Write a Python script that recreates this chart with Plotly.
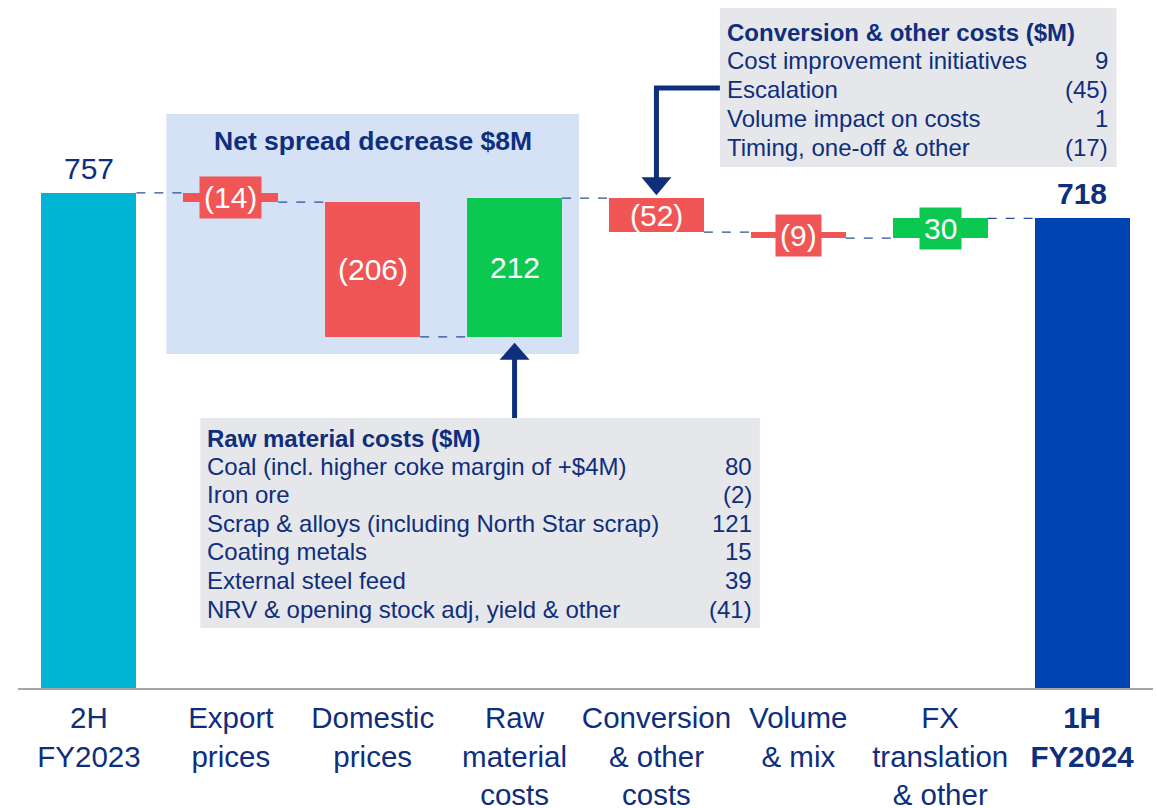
import plotly.graph_objects as go

# ---------------- data ----------------
categories = ["2H FY2023", "Export prices", "Domestic prices", "Raw material costs",
              "Conversion & other costs", "Volume & mix", "FX translation & other", "1H FY2024"]
tick_labels = ["2H<br>FY2023", "Export<br>prices", "Domestic<br>prices", "Raw<br>material<br>costs",
               "Conversion<br>& other<br>costs", "Volume<br>& mix", "FX<br>translation<br>& other",
               "<b>1H</b><br><b>FY2024</b>"]
opening_value = 757
changes = [-14, -206, 212, -52, -9, 30]
closing_value = 718

raw_items = ["Coal (incl. higher coke margin of +$4M)", "Iron ore",
             "Scrap & alloys (including North Star scrap)", "Coating metals",
             "External steel feed", "NRV & opening stock adj, yield & other"]
raw_values = [80, -2, 121, 15, 39, -41]

conv_items = ["Cost improvement initiatives", "Escalation", "Volume impact on costs",
              "Timing, one-off & other"]
conv_values = [9, -45, 1, -17]

spread_title = "Net spread decrease $8M"
raw_title = "Raw material costs ($M)"
conv_title = "Conversion & other costs ($M)"

# ---------------- styles ----------------
FONT = "Liberation Sans, Arial, sans-serif"
NAVY = "#0F2E7C"
CYAN = "#00B5D3"
RED = "#F15656"
GREEN = "#0BC950"
DARKBLUE = "#0044B2"
LIGHTBLUE = "#D5E1F5"
GRAY = "#E6E7EB"
CONN = "#2E4D9B"

W, H = 1157, 808
ML, MR, MT, MB = 17.5, 3.5, 0, 120
PLOT_W = W - ML - MR
PLOT_H = H - MT - MB
BASE_PX = MT + PLOT_H   # page y of the zero line
YMAX = 1052
CAT_W = PLOT_W / len(categories)
BAR_W = 0.669


def fmt(v):
    return f"({abs(v)})" if v < 0 else f"{v}"


def xd(px):
    return (px - ML) / CAT_W - 0.5


def yd(py):
    return (BASE_PX - py) / PLOT_H * YMAX


def dy(pixels):
    return pixels / PLOT_H * YMAX


# waterfall geometry from the data
levels = [opening_value]
for c in changes:
    levels.append(levels[-1] + c)
bases, heights, colors = [0], [opening_value], [CYAN]
for i, c in enumerate(changes):
    lo = min(levels[i], levels[i + 1])
    bases.append(lo)
    heights.append(abs(c))
    colors.append(GREEN if c > 0 else RED)
bases.append(0)
heights.append(closing_value)
colors.append(DARKBLUE)
tops = [b + h for b, h in zip(bases, heights)]

fig = go.Figure()
fig.add_trace(go.Bar(x=categories, y=heights, base=bases, width=BAR_W,
                     marker=dict(color=colors, line=dict(width=0)),
                     hoverinfo="skip", showlegend=False))

shapes = []
annotations = []

# shaded "net spread" region (behind bars)
shapes.append(dict(type="rect", xref="x", yref="y", x0=xd(166), x1=xd(579), y0=yd(354), y1=yd(114),
                   fillcolor=LIGHTBLUE, line=dict(width=0), layer="below"))
annotations.append(dict(x=2, y=yd(141), xref="x", yref="y", text=f"<b>{spread_title}</b>",
                        showarrow=False, font=dict(family=FONT, size=26.5, color=NAVY)))

# connectors
for i in range(len(categories) - 1):
    lvl = levels[i] if i < len(levels) else closing_value
    shapes.append(dict(type="line", xref="x", yref="y", x0=i + BAR_W / 2, x1=i + 1 - BAR_W / 2,
                       y0=lvl, y1=lvl, line=dict(color=CONN, width=1.2, dash="dash")))

# totals labels
annotations.append(dict(x=categories[0], y=tops[0], text=str(opening_value), showarrow=False,
                        yanchor="bottom", yshift=6, font=dict(family=FONT, size=30, color=NAVY)))
annotations.append(dict(x=categories[-1], y=tops[-1], text=f"<b>{closing_value}</b>", showarrow=False,
                        yanchor="bottom", yshift=6, font=dict(family=FONT, size=30, color=NAVY)))

# change labels
for i, c in enumerate(changes):
    k = i + 1
    mid = bases[k] + heights[k] / 2
    small = heights[k] * PLOT_H / YMAX < 25
    a = dict(x=categories[k], y=mid, text=fmt(c), showarrow=False,
             font=dict(family=FONT, size=30, color="white"), yanchor="middle")
    if small:
        a.update(bgcolor=colors[k], borderpad=4)
    annotations.append(a)

TXT = 24
# raw material costs box
shapes.append(dict(type="rect", xref="x", yref="y", x0=xd(200), x1=xd(760), y0=yd(628), y1=yd(418),
                   fillcolor=GRAY, line=dict(width=0), layer="above"))
annotations.append(dict(x=xd(205), y=yd(438), xref="x", yref="y", text=f"<b>{raw_title}</b>",
                        showarrow=False, xanchor="left", font=dict(family=FONT, size=TXT, color=NAVY)))
for j, (name, v) in enumerate(zip(raw_items, raw_values)):
    yy = yd(466 + 28.6 * j)
    annotations.append(dict(x=xd(205), y=yy, text=name, showarrow=False, xanchor="left",
                            font=dict(family=FONT, size=TXT, color=NAVY)))
    annotations.append(dict(x=xd(754), y=yy, text=fmt(v), showarrow=False, xanchor="right",
                            font=dict(family=FONT, size=TXT, color=NAVY)))

# conversion box
shapes.append(dict(type="rect", xref="x", yref="y", x0=xd(720), x1=xd(1117), y0=yd(167), y1=yd(8),
                   fillcolor=GRAY, line=dict(width=0), layer="above"))
annotations.append(dict(x=xd(725), y=yd(32), text=f"<b>{conv_title}</b>", showarrow=False,
                        xanchor="left", font=dict(family=FONT, size=TXT, color=NAVY)))
for j, (name, v) in enumerate(zip(conv_items, conv_values)):
    yy = yd(60 + 29 * j)
    annotations.append(dict(x=xd(725), y=yy, text=name, showarrow=False, xanchor="left",
                            font=dict(family=FONT, size=TXT, color=NAVY)))
    annotations.append(dict(x=xd(1110), y=yy, text=fmt(v), showarrow=False, xanchor="right",
                            font=dict(family=FONT, size=TXT, color=NAVY)))

# arrow 1 (up to raw material bar)
k = 3
tip = bases[k] - dy(6)
head_base = tip - dy(17)
hw = 15 / CAT_W
shapes.append(dict(type="line", xref="x", yref="y", x0=k, x1=k, y0=yd(418), y1=head_base + dy(1),
                   line=dict(color=NAVY, width=5)))
shapes.append(dict(type="path", xref="x", yref="y",
                   path=f"M {k - hw},{head_base} L {k + hw},{head_base} L {k},{tip} Z",
                   fillcolor=NAVY, line=dict(width=0)))

# arrow 2 (down to conversion bar)
k = 4
tip = tops[k] + dy(3)
head_base = tip + dy(18)
shapes.append(dict(type="path", xref="x", yref="y",
                   path=f"M {xd(720)},{yd(88)} L {k},{yd(88)} L {k},{head_base - dy(1)}",
                   line=dict(color=NAVY, width=5)))
shapes.append(dict(type="path", xref="x", yref="y",
                   path=f"M {k - hw},{head_base} L {k + hw},{head_base} L {k},{tip} Z",
                   fillcolor=NAVY, line=dict(width=0)))

fig.update_layout(
    width=W, height=H,
    margin=dict(l=ML, r=MR, t=MT, b=MB, pad=0, autoexpand=False),
    paper_bgcolor="white", plot_bgcolor="white",
    bargap=0,
    shapes=shapes, annotations=annotations,
    xaxis=dict(type="category", categoryorder="array", categoryarray=categories,
               tickvals=categories, ticktext=tick_labels, range=[-0.5, len(categories) - 0.5],
               showline=True, linecolor="#A6A6A6", linewidth=2, ticks="", showgrid=False,
               ticklabelstandoff=3, automargin=False,
               tickfont=dict(family=FONT, size=29.5, color=NAVY), fixedrange=True),
    yaxis=dict(visible=False, range=[0, YMAX], showgrid=False, zeroline=False, fixedrange=True,
               automargin=False),
    font=dict(family=FONT, color=NAVY),
)

# remove the browser's default 8px body margin so the figure fills the window exactly
fig.write_html("out.html", config={"displayModeBar": False},
               post_script="document.body.style.margin='0';")
